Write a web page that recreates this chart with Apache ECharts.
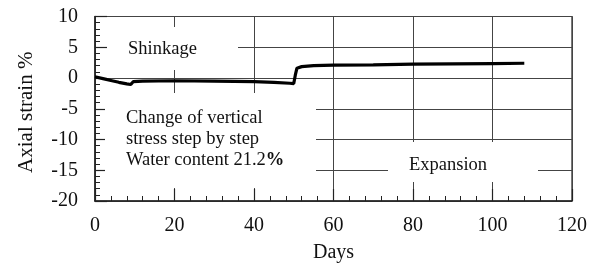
<!DOCTYPE html>
<html>
<head>
<meta charset="utf-8">
<script src="https://cdn.jsdelivr.net/npm/echarts@6/dist/echarts.min.js"></script>
<style>
html,body{margin:0;padding:0;background:#fff;}
#c{width:595px;height:264px;}
</style>
</head>
<body>
<div id="c"></div>
<script>
// Data
var days =   [0,   2,    4,    6,    8,    9,     9.3,  9.6,  12,   20,   30,    40,   45,   49,    50,   50.4, 50.8, 52,  55,  60,  70,   80,   90,  100,  108];
var strain = [0.2, -0.1, -0.4, -0.7, -0.95, -1.05, -0.8, -0.6, -0.5, -0.45, -0.5, -0.6, -0.7, -0.85, -0.9, 0.5,  1.6,  1.85, 2.0, 2.1, 2.15, 2.25, 2.3, 2.35, 2.4];
var xTicks = {min: 0, max: 120, interval: 20};
var yTicks = {min: -20, max: 10, interval: 5};
var labelShinkage = 'Shinkage';
var labelChange = ['Change of vertical', 'stress step by step', 'Water content 21.2{b|%}'];
var labelExpansion = 'Expansion';
var xName = 'Days';
var yName = 'Axial strain %';

var FONT = 'Liberation Serif';
var chart = echarts.init(document.getElementById('c'), null, {renderer: 'canvas'});
var pts = days.map(function (d, i) { return [d, strain[i]]; });

function box(x, y, w, h) {
  return {type: 'rect', z: 1, shape: {x: x, y: y, width: w, height: h}, style: {fill: '#fff'}, silent: true};
}
function txt(x, y, text, lh) {
  return {type: 'text', z: 1, x: x, y: y, silent: true,
    style: {text: text, fill: '#111', fontFamily: FONT, fontSize: 18.5, lineHeight: lh || 21,
      verticalAlign: 'middle', align: 'left',
      rich: {b: {fontWeight: 'bold', fontSize: 18.5, fontFamily: FONT, fill: '#111', lineHeight: lh || 21}}}};
}

chart.setOption({
  animation: false,
  backgroundColor: '#fff',
  grid: {left: 95, right: 23, top: 16.5, bottom: 63, outerBoundsMode: 'none', containLabel: false,
    show: true, borderColor: '#222', borderWidth: 1.2, backgroundColor: 'transparent'},
  xAxis: {
    type: 'value', min: xTicks.min, max: xTicks.max, interval: xTicks.interval,
    name: xName, nameLocation: 'middle', nameGap: 42,
    nameTextStyle: {fontFamily: FONT, fontSize: 20, color: '#111'},
    axisLine: {show: true, onZero: false, lineStyle: {color: '#222', width: 1.5}},
    axisTick: {show: true, inside: true, length: 12, lineStyle: {color: '#222', width: 1.2}},
    minorTick: {show: true, splitNumber: 5, length: 5, lineStyle: {color: '#222', width: 1}},
    axisLabel: {fontFamily: FONT, fontSize: 20, color: '#111', margin: 15},
    splitLine: {show: true, lineStyle: {color: '#444', width: 1}}
  },
  yAxis: {
    type: 'value', min: yTicks.min, max: yTicks.max, interval: yTicks.interval,
    name: yName, nameLocation: 'middle', nameGap: 58,
    nameTextStyle: {fontFamily: FONT, fontSize: 21, color: '#111', padding: [0, 7, 0, 0]},
    axisLine: {show: true, onZero: false, lineStyle: {color: '#222', width: 1.5}},
    axisTick: {show: true, inside: true, length: 12, lineStyle: {color: '#222', width: 1.2}},
    minorTick: {show: true, splitNumber: 5, length: 5, lineStyle: {color: '#222', width: 1}},
    axisLabel: {fontFamily: FONT, fontSize: 20, color: '#111', margin: 17},
    splitLine: {show: true, lineStyle: {color: '#444', width: 1}}
  },
  graphic: [
    box(107, 27, 131, 43),
    txt(128, 49, labelShinkage),
    box(105, 93, 211, 95),
    txt(126, 139, labelChange.join('\n')),
    box(388, 142, 150, 40),
    txt(409, 165, labelExpansion)
  ],
  series: [{
    type: 'line', data: pts, showSymbol: false, z: 3,
    lineStyle: {color: '#000', width: 3.2}
  }]
});
</script>
</body>
</html>
